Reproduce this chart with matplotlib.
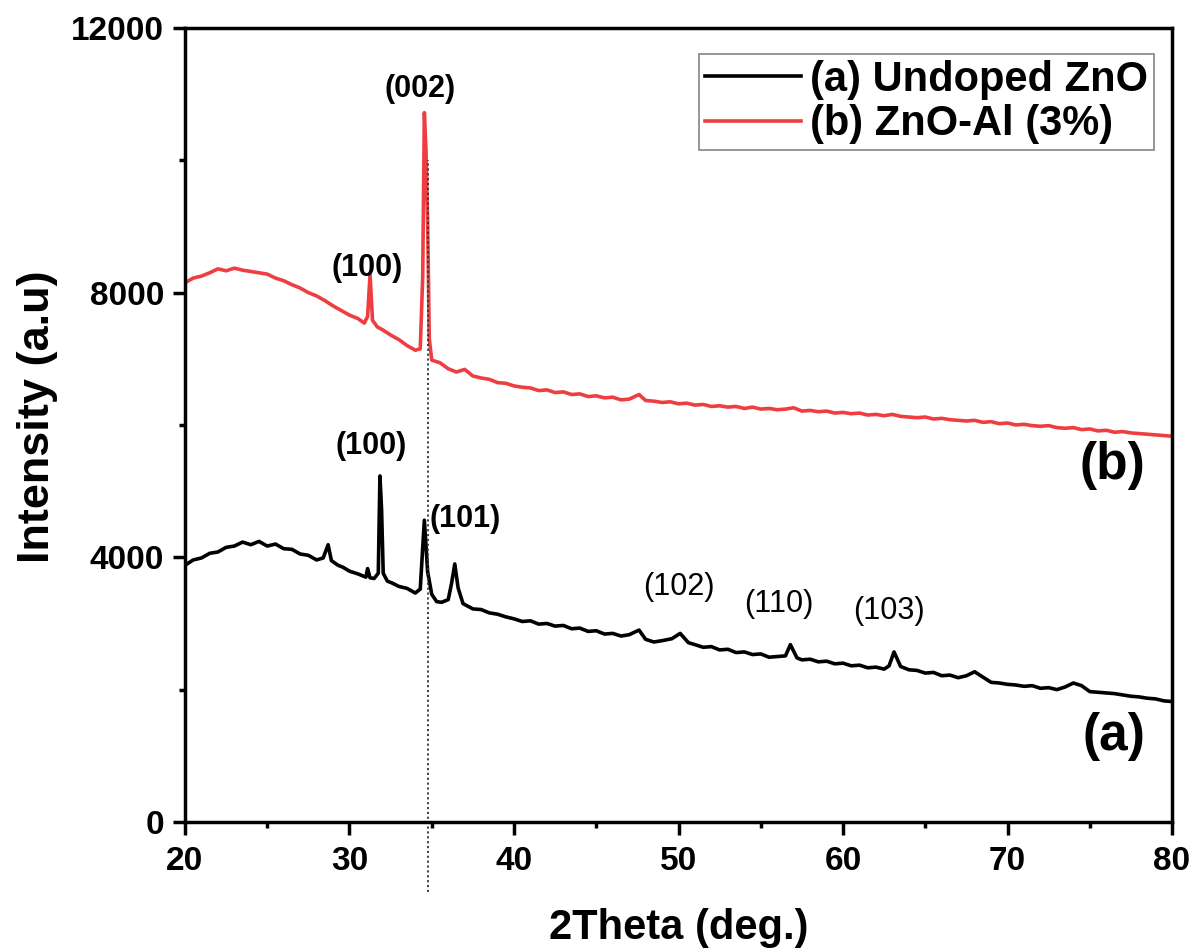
import matplotlib
matplotlib.use("Agg")
import matplotlib.pyplot as plt

plt.rcParams['font.family'] = ['Liberation Sans', 'DejaVu Sans']

# (a) undoped ZnO
theta_a = [20.0, 20.5, 21.0, 21.5, 22.0, 22.5, 23.0, 23.5, 24.0, 24.5, 25.0, 25.5, 26.0, 26.5,
           27.0, 27.5, 28.0, 28.4, 28.7, 28.9, 29.3, 29.6, 30.0, 30.5, 31.0, 31.1, 31.25, 31.5,
           31.75, 31.85, 31.95, 32.05, 32.3, 32.6, 33.0, 33.5, 34.0, 34.3, 34.55, 34.75, 35.0,
           35.3, 35.6, 36.0, 36.2, 36.4, 36.6, 36.9, 37.5, 38.0, 38.5, 39.0, 39.5,
           40.0, 40.5, 41.0, 41.5, 42.0, 42.5, 43.0, 43.5, 44.0, 44.5, 45.0, 45.5, 46.0, 46.5,
           47.0, 47.6, 48.0, 48.5, 49.0, 49.6, 50.1, 50.6, 51.0, 51.5, 52.0, 52.5, 53.0, 53.5,
           54.0, 54.5, 55.0, 55.5, 56.0, 56.5, 56.8, 57.2, 57.5, 58.0, 58.5, 59.0, 59.5, 60.0,
           60.5, 61.0, 61.5, 62.0, 62.5, 62.8, 63.1, 63.5, 64.0, 64.5, 65.0, 65.5, 66.0, 66.5,
           67.0, 67.5, 68.0, 68.5, 69.0, 69.5, 70.0, 70.5, 71.0, 71.5, 72.0, 72.5, 73.0, 73.5,
           74.0, 74.5, 75.0, 75.5, 76.0, 76.5, 77.0, 77.5, 78.0, 78.5, 79.0, 79.5, 80.0]
intensity_a = [3880, 3960, 3990, 4060, 4080, 4150, 4170, 4230, 4190, 4240, 4170, 4200, 4130, 4120,
               4050, 4030, 3960, 3990, 4190, 3950, 3880, 3850, 3790, 3750, 3700, 3830, 3690, 3680,
               3760, 5230, 4720, 3760, 3640, 3610, 3560, 3530, 3460, 3520, 4560, 3780, 3440,
               3330, 3320, 3360, 3600, 3900, 3540, 3300, 3220, 3210, 3160, 3140, 3100,
               3070, 3030, 3040, 2990, 3000, 2960, 2970, 2920, 2930, 2880, 2890, 2840, 2850, 2810,
               2830, 2900, 2760, 2720, 2740, 2770, 2850, 2710, 2680, 2640, 2650, 2600, 2610, 2560,
               2570, 2530, 2540, 2490, 2500, 2510, 2680, 2480, 2450, 2460, 2420, 2430, 2390, 2400,
               2360, 2370, 2330, 2340, 2310, 2360, 2570, 2350, 2300, 2290, 2250, 2260, 2210, 2220,
               2180, 2210, 2270, 2190, 2110, 2100, 2080, 2070, 2050, 2060, 2020, 2030, 2000, 2040,
               2100, 2060, 1970, 1960, 1950, 1940, 1920, 1900, 1890, 1870, 1860, 1830, 1820]

# (b) ZnO-Al (3%)
theta_b = [20.0, 20.5, 21.0, 21.5, 22.0, 22.5, 23.0, 23.5, 24.0, 24.5, 25.0, 25.5, 26.0, 26.5,
           27.0, 27.5, 28.0, 28.5, 29.0, 29.5, 30.0, 30.5, 30.9, 31.1, 31.25, 31.4, 31.7, 32.0,
           32.5, 33.0, 33.5, 34.0, 34.3, 34.45, 34.55, 34.65, 34.75, 34.85, 35.0, 35.5,
           36.0, 36.5, 37.0, 37.5, 38.0, 38.5, 39.0, 39.5, 40.0, 40.5, 41.0, 41.5, 42.0, 42.5,
           43.0, 43.5, 44.0, 44.5, 45.0, 45.5, 46.0, 46.5, 47.0, 47.6, 48.0, 48.5, 49.0, 49.5,
           50.0, 50.5, 51.0, 51.5, 52.0, 52.5, 53.0, 53.5, 54.0, 54.5, 55.0, 55.5, 56.0, 56.5,
           57.0, 57.5, 58.0, 58.5, 59.0, 59.5, 60.0, 60.5, 61.0, 61.5, 62.0, 62.5, 63.0, 63.5,
           64.0, 64.5, 65.0, 65.5, 66.0, 66.5, 67.0, 67.5, 68.0, 68.5, 69.0, 69.5, 70.0, 70.5,
           71.0, 71.5, 72.0, 72.5, 73.0, 73.5, 74.0, 74.5, 75.0, 75.5, 76.0, 76.5, 77.0, 77.5,
           78.0, 78.5, 79.0, 79.5, 80.0]
intensity_b = [8150, 8220, 8250, 8300, 8360, 8330, 8370, 8340, 8320, 8300, 8280, 8220, 8180, 8120,
               8070, 8000, 7950, 7880, 7800, 7730, 7660, 7610, 7540, 7640, 8270, 7580, 7480, 7440,
               7360, 7290, 7200, 7130, 7150, 8240, 10720, 10150, 9070, 7300, 6980, 6940,
               6850, 6800, 6840, 6740, 6710, 6690, 6640, 6630, 6590, 6570, 6560, 6520, 6530, 6490,
               6500, 6460, 6470, 6430, 6440, 6410, 6420, 6380, 6390, 6460, 6370, 6360, 6340, 6350,
               6320, 6330, 6300, 6310, 6280, 6290, 6270, 6280, 6250, 6270, 6240, 6250, 6230, 6240,
               6260, 6210, 6220, 6200, 6210, 6180, 6190, 6170, 6180, 6150, 6160, 6140, 6160, 6130,
               6120, 6110, 6120, 6090, 6100, 6080, 6070, 6060, 6070, 6040, 6050, 6020, 6030, 6000,
               6010, 5990, 5980, 5990, 5960, 5950, 5960, 5930, 5940, 5910, 5920, 5890, 5900, 5880,
               5870, 5860, 5850, 5840, 5830]

ref_2theta = 34.75

peak_labels = ['(100)', '(002)', '(100)', '(101)', '(102)', '(110)', '(103)']
label_x = [31.1, 34.3, 31.3, 37.0, 50.0, 56.1, 62.8]
label_y = [8150, 10850, 5450, 4350, 3330, 3060, 2960]
label_bold = [True, True, True, True, False, False, False]

fig = plt.figure(figsize=(11.95, 9.52), dpi=100)
ax = fig.add_axes([0.1548, 0.1366, 0.826, 0.834])

ax.plot(theta_a, intensity_a, color='black', lw=2.6, label='(a) Undoped ZnO')
ax.plot(theta_b, intensity_b, color='#ef3e42', lw=2.6, label='(b) ZnO-Al (3%)')

ax.vlines(ref_2theta, -1060, 10000, colors='#333333', linestyles=(0, (1.2, 1.5)), lw=1.3, clip_on=False)

for t, x, y, b in zip(peak_labels, label_x, label_y, label_bold):
    ax.text(x, y, t, fontsize=22, fontweight='bold' if b else 'normal', ha='center', va='bottom')

ax.text(78.4, 5380, '(b)', fontsize=37, fontweight='bold', ha='right', va='center')
ax.text(78.4, 1285, '(a)', fontsize=37, fontweight='bold', ha='right', va='center')

ax.set_xlim(20, 80)
ax.set_ylim(0, 12000)
ax.set_xticks([20, 30, 40, 50, 60, 70, 80])
ax.set_xticks([25, 35, 45, 55, 65, 75], minor=True)
ax.set_yticks([0, 4000, 8000, 12000])
ax.set_yticks([2000, 6000, 10000], minor=True)

for s in ax.spines.values():
    s.set_linewidth(2.5)
ax.tick_params(which='major', direction='out', length=9, width=2.5, labelsize=24)
ax.tick_params(axis='x', which='major', pad=8)
ax.tick_params(axis='y', which='major', pad=6)
ax.tick_params(which='minor', direction='out', length=4, width=2.5)
for lab in ax.get_xticklabels() + ax.get_yticklabels():
    lab.set_fontweight('bold')

ax.set_xlabel('2Theta (deg.)', fontsize=30, fontweight='bold')
ax.set_ylabel('Intensity (a.u)', fontsize=32.5, fontweight='bold')
ax.xaxis.set_label_coords(0.5, -0.108)
ax.yaxis.set_label_coords(-0.129, 0.51)

leg = ax.legend(loc='upper right', bbox_to_anchor=(0.99, 0.978), frameon=True,
                fancybox=False, edgecolor='#666666', handlelength=2.3, handletextpad=0.2,
                borderpad=0.15, labelspacing=0.1, borderaxespad=0.2,
                prop={'weight': 'bold', 'size': 30})
leg.get_frame().set_linewidth(1.2)

fig.savefig('out.png', dpi=100)
